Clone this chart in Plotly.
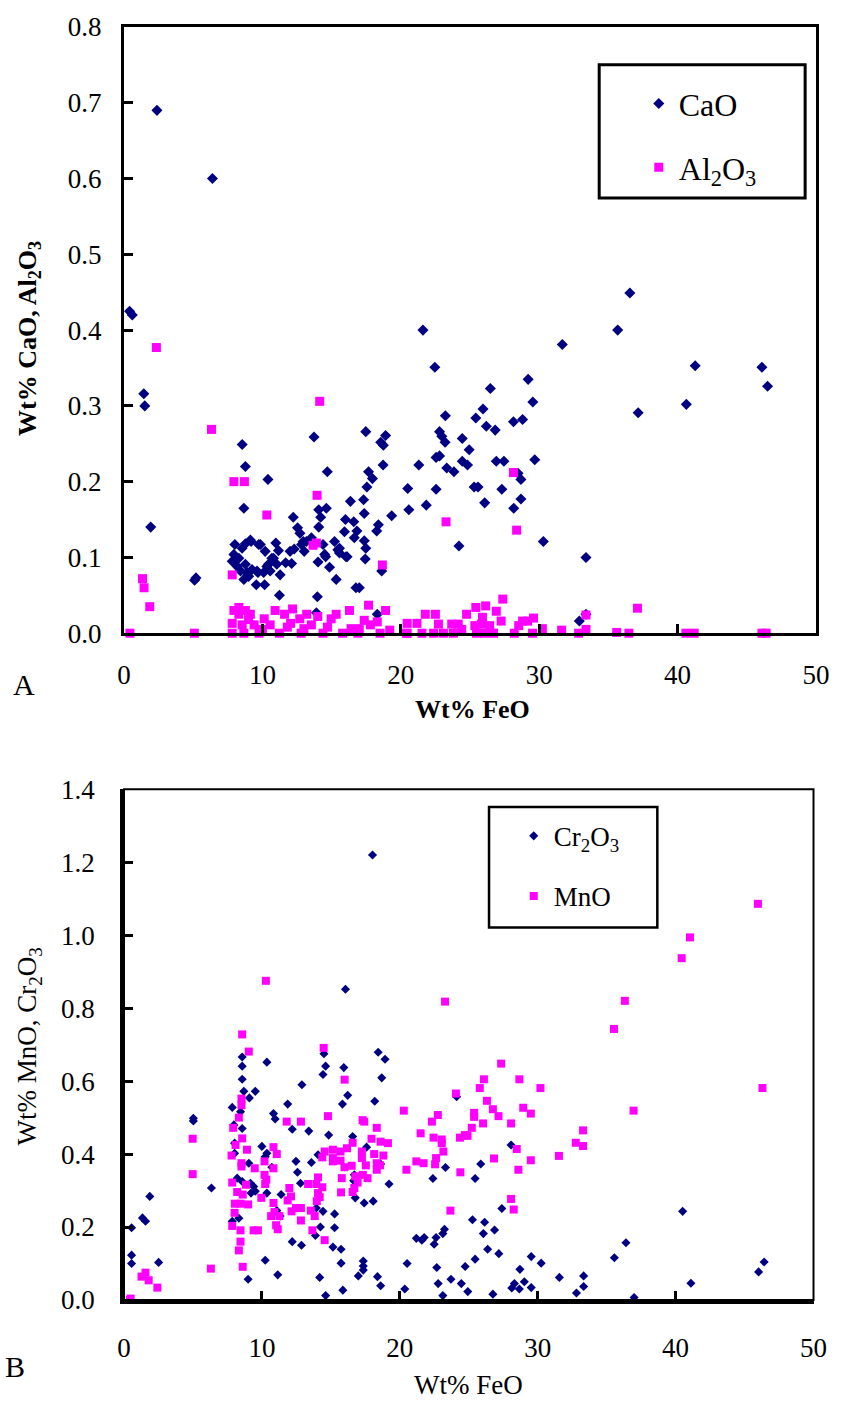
import plotly.graph_objects as go

# ---------------- Panel A: CaO and Al2O3 vs FeO ----------------
cao_feo = [0.4, 0.6, 2.38, 6.39, 36.55, 21.6, 35.67, 1.43, 1.50, 1.93, 5.1, 5.2,
           8.54, 8.77, 8.66, 10.4, 13.73, 13.97, 17.47, 18.55, 18.9, 18.74, 18.72, 14.69,
           17.67, 17.95, 17.55, 17.31, 17.36, 16.36, 14.62, 14.07, 14.21, 14.07, 12.23,
           12.54, 19.34, 18.38, 18.26, 20.5, 20.58, 21.3, 16.0, 16.6, 15.93, 16.83, 17.36,
           17.47, 17.43, 18.62, 15.21, 15.57, 16.12, 15.33, 14.85, 14.57, 14.02, 14.38,
           13.54, 12.95, 12.71, 13.02, 12.0, 12.11, 11.68, 11.28, 10.97, 11.16, 10.8,
           10.56, 10.32, 10.2, 9.85, 10.16, 9.56, 9.68, 9.18, 8.77, 8.01, 7.94, 7.82, 8.77,
           8.42, 8.89, 8.66, 8.3, 8.18, 11.23, 16.76, 17.0, 13.9, 18.3, 15.45, 16.04,
           16.64, 12.3, 12.83, 13.18, 14.5, 10.68, 11.04, 10.44, 9.73, 9.13, 8.53, 9.01,
           9.25, 9.61, 10.09, 15.57,
           31.67, 22.46, 41.27, 46.09, 46.5, 29.2, 26.47, 29.54, 40.63, 37.15, 25.94,
           23.22, 25.42, 28.14, 28.8, 26.18, 26.82, 22.8, 22.96, 23.2, 24.44, 24.94, 22.55,
           22.8, 23.32, 23.84, 24.44, 24.82, 26.9, 27.45, 29.68, 28.47, 28.68, 22.55, 25.3,
           25.58, 27.3, 21.84, 26.06, 28.68, 28.16, 24.2, 30.3, 33.38, 32.9, 33.38]
cao = [0.425, 0.420, 0.690, 0.600, 0.449, 0.400, 0.400, 0.316, 0.300, 0.140, 0.070, 0.073,
       0.249, 0.220, 0.165, 0.203, 0.259, 0.048, 0.266, 0.252, 0.261, 0.248, 0.222, 0.213,
       0.213, 0.204, 0.193, 0.176, 0.158, 0.174, 0.165, 0.163, 0.153, 0.140, 0.153,
       0.139, 0.155, 0.143, 0.135, 0.191, 0.163, 0.222, 0.150, 0.147, 0.134, 0.135, 0.122,
       0.112, 0.098, 0.082, 0.121, 0.106, 0.101, 0.071, 0.087, 0.101, 0.094, 0.117,
       0.126, 0.121, 0.132, 0.108, 0.108, 0.092, 0.093, 0.077, 0.119, 0.109, 0.099,
       0.082, 0.088, 0.108, 0.117, 0.064, 0.064, 0.080, 0.121, 0.118, 0.117, 0.104, 0.095, 0.091,
       0.082, 0.080, 0.071, 0.099, 0.088, 0.050, 0.060, 0.060, 0.027, 0.025, 0.110, 0.101,
       0.126, 0.111, 0.117, 0.121, 0.104, 0.099, 0.091, 0.091, 0.117, 0.123, 0.112, 0.075,
       0.084, 0.082, 0.080, 0.112,
       0.381, 0.351, 0.353, 0.351, 0.326, 0.335, 0.323, 0.305, 0.302, 0.291, 0.296,
       0.287, 0.284, 0.279, 0.282, 0.273, 0.268, 0.266, 0.260, 0.252, 0.257, 0.242, 0.232,
       0.234, 0.218, 0.213, 0.227, 0.222, 0.227, 0.227, 0.229, 0.211, 0.203, 0.190, 0.193,
       0.193, 0.190, 0.169, 0.172, 0.177, 0.165, 0.115, 0.121, 0.100, 0.016, 0.025]

al_feo = [2.34, 14.14, 6.32, 7.94, 8.7, 13.95, 10.32, 13.66, 13.9, 18.67, 1.34, 1.45, 1.86,
          7.82, 0.43, 5.08,
          28.14, 23.27, 28.37, 27.37, 37.1, 33.38, 26.13, 25.42, 26.9, 25.9, 24.75, 27.25,
          21.77, 22.5, 20.46, 21.17, 29.59, 28.8, 29.16, 28.52, 30.23, 31.62, 35.6, 36.48,
          40.6, 41.2, 46.09, 46.4, 32.85, 33.38, 29.52, 28.2, 26.7, 26.06, 25.47, 25.35,
          24.15, 24.4, 23.68, 23.8, 23.08, 22.72, 22.37, 21.53, 20.46, 26.42, 25.82,
          7.94, 8.77, 8.3, 9.13, 7.82, 8.54, 7.82, 8.66, 9.4, 9.76, 10.13, 10.92, 10.56,
          11.23, 11.6, 12.18, 12.04, 12.7, 12.8, 13.54, 14.0, 14.38, 14.97, 15.33, 15.8,
          16.29, 16.41, 17.0, 17.36, 17.67, 17.8, 18.3, 18.5, 18.9, 19.2, 20.4,
          10.0, 11.8, 13.0, 14.7, 16.9, 9.0, 13.2, 8.3]
al2o3 = [0.377, 0.306, 0.269, 0.200, 0.200, 0.182, 0.156, 0.116, 0.119, 0.090, 0.072, 0.060,
         0.035, 0.077, 0.0, 0.0,
         0.212, 0.147, 0.136, 0.045, 0.033, 0.024, 0.036, 0.034, 0.029, 0.021, 0.025, 0.016,
         0.025, 0.025, 0.013, 0.013, 0.020, 0.016, 0.016, 0.010, 0.006, 0.004, 0.001, 0.0,
         0.0, 0.0, 0.0, 0.0, 0.0, 0.005, 0.0, 0.0, 0.0, 0.0, 0.0, 0.010,
         0.012, 0.005, 0.012, 0.0, 0.0, 0.012, 0.0, 0.0, 0.0, 0.010, 0.012,
         0.030, 0.030, 0.025, 0.025, 0.013, 0.011, 0.0, 0.0, 0.011, 0.0, 0.019, 0.030, 0.011,
         0.0, 0.025, 0.032, 0.013, 0.019, 0.0, 0.011, 0.022, 0.0, 0.019, 0.025, 0.0,
         0.030, 0.006, 0.006, 0.017, 0.037, 0.011, 0.015, 0.0, 0.030, 0.004, 0.0,
         0.005, 0.008, 0.006, 0.008, 0.0, 0.018, 0.025, 0.034]

# ---------------- Panel B: Cr2O3 and MnO vs FeO ----------------
cr_feo = [18.02, 16.06,
          8.57, 8.57, 8.57, 10.36, 14.5, 14.62, 14.43, 15.94, 18.43, 18.93, 18.69, 12.9,
          8.69, 9.52, 9.09, 7.85, 8.45, 11.87, 16.22, 15.84, 18.18, 10.84, 10.96, 7.97, 8.57,
          12.2, 13.4, 14.84, 16.58, 17.59, 10.0, 10.36, 8.02, 8.02, 9.05, 10.72, 12.47, 13.59,
          14.07, 12.58, 12.8, 8.21, 8.57, 9.4, 9.52, 10.36, 9.21, 11.39, 19.22, 16.7, 16.66,
          18.61, 16.77, 17.42, 18.07, 13.95, 14.43, 15.27, 11.08, 11.32, 8.33, 7.85, 15.27,
          14.24, 13.88, 12.2, 12.87, 15.15, 15.74, 10.24, 17.35, 17.35, 17.35, 20.53, 15.74,
          16.99, 18.38, 11.15, 9.0, 14.19, 18.61, 15.87, 14.62, 20.36, 21.2, 10.24, 9.17,
          0.55, 0.55, 0.55, 1.34, 1.56, 1.87, 2.51, 5.03, 5.03, 6.34,
          24.12, 28.07, 23.31, 25.87, 22.4, 25.46, 27.4, 25.27, 26.15, 26.87, 26.06, 23.24,
          23.12, 21.6, 21.77, 22.63, 22.49, 26.37, 27.18, 25.46, 29.53, 30.25, 22.68, 24.74,
          28.71, 23.71, 24.46, 22.78, 24.93, 23.12, 26.75, 28.31, 28.12, 28.67, 29.03, 29.53,
          31.57, 33.33, 33.33, 32.81,
          40.51, 36.4, 35.56, 46.42, 46.02, 41.11, 36.99]
cr2o3 = [1.220, 0.852,
         0.666, 0.641, 0.605, 0.652, 0.675, 0.641, 0.618, 0.637, 0.679, 0.660, 0.609, 0.590,
         0.572, 0.572, 0.554, 0.528, 0.516, 0.537, 0.561, 0.537, 0.545, 0.511, 0.496, 0.480, 0.470,
         0.468, 0.463, 0.452, 0.448, 0.419, 0.421, 0.402, 0.430, 0.402, 0.375, 0.364, 0.380, 0.377,
         0.398, 0.350, 0.320, 0.334, 0.325, 0.311, 0.298, 0.293, 0.293, 0.289, 0.318, 0.343, 0.327,
         0.373, 0.280, 0.266, 0.271, 0.252, 0.243, 0.236, 0.245, 0.230, 0.224, 0.216, 0.198,
         0.200, 0.177, 0.160, 0.150, 0.145, 0.139, 0.109, 0.107, 0.093, 0.082, 0.100, 0.101,
         0.066, 0.064, 0.069, 0.057, 0.062, 0.039, 0.027, 0.012, 0.030, 0.169, 0.393, 0.320,
         0.198, 0.123, 0.100, 0.225, 0.216, 0.284, 0.103, 0.498, 0.491, 0.307,
         0.557, 0.425, 0.363, 0.373, 0.333, 0.333, 0.251, 0.220, 0.213, 0.192, 0.182, 0.194,
         0.182, 0.164, 0.171, 0.171, 0.153, 0.139, 0.127, 0.112, 0.119, 0.101, 0.089, 0.092,
         0.084, 0.057, 0.045, 0.045, 0.023, 0.012, 0.016, 0.045, 0.033, 0.030, 0.050, 0.034,
         0.062, 0.066, 0.037, 0.019,
         0.243, 0.157, 0.116, 0.104, 0.077, 0.046, 0.007]

mn_feo = [45.97, 41.04, 40.44, 23.28, 36.32, 35.53, 27.35, 26.1, 28.67, 25.8, 30.2, 46.3, 24.07,
          10.29, 8.57, 9.05, 14.48, 16.0,
          20.29, 26.32, 26.75, 28.95, 29.5, 27.16, 22.76, 22.33, 25.39, 25.39, 26.04, 28.07,
          25.22, 33.29, 21.51, 22.45, 23.04, 23.04, 24.36, 24.72, 24.91, 32.76, 33.29, 28.48,
          23.16, 21.2, 21.73, 22.63, 22.56, 26.83, 29.5, 31.54, 20.48, 24.39, 28.6, 28.07,
          28.26, 23.67, 36.95,
          0.48, 0.43, 1.27, 1.56, 1.79, 2.42, 4.98, 4.98, 6.3,
          8.52, 8.52, 8.33, 7.92, 8.57, 8.09, 8.92, 7.8, 8.52, 8.52, 9.48, 10.19, 10.84, 11.08,
          10.84, 11.8, 12.83, 14.79, 17.3, 17.42, 18.33, 17.95, 18.61, 19.14, 16.58, 14.55,
          15.15, 15.7, 16.17, 17.25, 18.14, 18.81, 18.33, 18.57, 17.54, 18.33, 17.25, 14.38,
          15.15, 15.15, 15.7, 15.99, 16.51, 16.77, 17.32, 17.66, 16.94, 16.7, 16.58, 15.79,
          15.74, 7.85, 8.85, 8.21, 8.61, 8.04, 8.45, 9.0, 8.02, 7.85, 8.45, 8.45, 8.33, 8.61,
          9.4, 9.71, 9.96, 10.19, 10.32, 10.24, 10.84, 10.91, 11.27, 10.67, 11.03, 11.15,
          11.87, 11.99, 12.11, 12.15, 12.47, 12.83, 12.83, 13.55, 13.83, 13.66, 14.55, 13.98,
          14.07, 13.95, 14.07, 13.35, 14.38, 14.19]
mno = [1.086, 0.994, 0.937, 0.818, 0.820, 0.743, 0.648, 0.605, 0.605, 0.581, 0.581, 0.581, 0.566,
       0.875, 0.728, 0.681, 0.691, 0.604,
       0.519, 0.546, 0.523, 0.527, 0.511, 0.504, 0.507, 0.489, 0.513, 0.502, 0.484, 0.484,
       0.472, 0.465, 0.457, 0.445, 0.440, 0.430, 0.445, 0.452, 0.450, 0.431, 0.422, 0.414,
       0.407, 0.380, 0.375, 0.389, 0.372, 0.388, 0.383, 0.395, 0.357, 0.350, 0.357, 0.277,
       0.248, 0.245, 0.519,
       0.004, 0.0, 0.064, 0.075, 0.054, 0.034, 0.442, 0.345, 0.086,
       0.552, 0.534, 0.500, 0.472, 0.443, 0.425, 0.412, 0.396, 0.375, 0.366, 0.361, 0.380, 0.419, 0.400,
       0.361, 0.489, 0.489, 0.504, 0.493, 0.489, 0.472, 0.442, 0.434, 0.430, 0.431, 0.407,
       0.412, 0.407, 0.416, 0.407, 0.400, 0.396, 0.375, 0.369, 0.369, 0.357, 0.389, 0.391,
       0.389, 0.380, 0.382, 0.364, 0.368, 0.339, 0.343, 0.334, 0.322, 0.307, 0.296, 0.334,
       0.295, 0.322, 0.316, 0.296, 0.289, 0.264, 0.264, 0.262, 0.239, 0.203, 0.191, 0.160, 0.136, 0.091,
       0.191, 0.191, 0.280, 0.343, 0.330, 0.318, 0.266, 0.241, 0.230, 0.230, 0.205, 0.194,
       0.273, 0.307, 0.284, 0.243, 0.252, 0.252, 0.218, 0.245, 0.230, 0.191, 0.164, 0.271,
       0.293, 0.318, 0.336, 0.318, 0.309, 0.282]

x_ticks = [0, 10, 20, 30, 40, 50]
NAVY = "#000080"
MAGENTA = "#FF00FF"
SERIF = "Liberation Serif, Times New Roman, serif"

fig = go.Figure()
fig.add_trace(go.Scatter(x=cao_feo, y=cao, mode="markers", name="CaO",
                         marker=dict(symbol="diamond", size=8.5, color=NAVY),
                         xaxis="x", yaxis="y", legend="legend", legendgroup="a1",
                         cliponaxis=False))
fig.add_trace(go.Scatter(x=al_feo, y=al2o3, mode="markers", name="Al<sub>2</sub>O<sub>3</sub>",
                         marker=dict(symbol="square", size=9, color=MAGENTA),
                         xaxis="x", yaxis="y", legend="legend", legendgroup="a2",
                         cliponaxis=False))
fig.add_trace(go.Scatter(x=cr_feo, y=cr2o3, mode="markers", name="Cr<sub>2</sub>O<sub>3</sub>",
                         marker=dict(symbol="diamond", size=7, color=NAVY),
                         xaxis="x2", yaxis="y2", legend="legend2", legendgroup="b1",
                         cliponaxis=False))
fig.add_trace(go.Scatter(x=mn_feo, y=mno, mode="markers", name="MnO",
                         marker=dict(symbol="square", size=8, color=MAGENTA),
                         xaxis="x2", yaxis="y2", legend="legend2", legendgroup="b2",
                         cliponaxis=False))

tick_font = dict(family=SERIF, size=27, color="black")
common = dict(showgrid=False, zeroline=False, showline=True, linecolor="black",
              ticks="inside", tickcolor="black", tickfont=tick_font)

fig.update_layout(
    width=842, height=1404,
    margin=dict(l=124, r=19, t=19, b=104),
    paper_bgcolor="white", plot_bgcolor="white",
    font=dict(family=SERIF, color="black"),
    xaxis=dict(domain=[0, 1], anchor="y", range=[0, 50], tickvals=x_ticks,
               linewidth=3, mirror=True, ticklen=9, tickwidth=3,
               ticklabelstandoff=15, **common),
    yaxis=dict(domain=[0.5238, 1], anchor="x", range=[0, 0.8], dtick=0.1, tickformat=".1f",
               linewidth=3, mirror=True, ticklen=9, tickwidth=3,
               ticklabelstandoff=14, **common),
    xaxis2=dict(domain=[0, 0.9964], anchor="y2", range=[0, 50], tickvals=x_ticks,
                linewidth=3.5, ticklen=9, tickwidth=3,
                ticklabelstandoff=21, **common),
    yaxis2=dict(domain=[0, 0.4012], anchor="x2", range=[0, 1.4], dtick=0.2, tickformat=".1f",
                linewidth=3.5, ticklen=9, tickwidth=3,
                ticklabelstandoff=20, **common),
    legend=dict(x=0.7439, y=0.9613, xanchor="left", yanchor="top",
                bgcolor="rgba(0,0,0,0)", borderwidth=0, tracegroupgap=19,
                font=dict(family=SERIF, size=32, color="black")),
    legend2=dict(x=0.5632, y=0.3835, xanchor="left", yanchor="top",
                 bgcolor="rgba(0,0,0,0)", borderwidth=0, tracegroupgap=22,
                 font=dict(family=SERIF, size=27, color="black")),
    showlegend=True,
)

# Frames: legend boxes and the thin top/right border of panel B
fig.add_shape(type="rect", xref="paper", yref="paper", x0=0.6867, x1=0.9843,
              y0=0.8657, y1=0.9703, line=dict(color="black", width=3))
fig.add_shape(type="rect", xref="paper", yref="paper", x0=0.5275, x1=0.7707,
              y0=0.2927, y1=0.3872, line=dict(color="black", width=2.5))
fig.add_shape(type="rect", xref="x2 domain", yref="y2 domain", x0=0, x1=1, y0=0, y1=1,
              line=dict(color="black", width=2))


def label(text, x, y, size, angle=0, xanchor="center"):
    fig.add_annotation(text=text, xref="paper", yref="paper", x=x, y=y,
                       xanchor=xanchor, yanchor="middle", textangle=angle,
                       showarrow=False, font=dict(family=SERIF, size=size, color="black"))


label("<b>Wt% FeO</b>", 0.5036, 0.4637, 26)
label("<b>Wt% CaO, Al<sub>2</sub>O<sub>3</sub></b>", -0.1373, 0.7557, 26, angle=-90)
label("Wt% FeO", 0.4979, -0.0664, 27)
label("Wt% MnO, Cr<sub>2</sub>O<sub>3</sub>", -0.1373, 0.1991, 27, angle=-90)
label("A", -0.1438, 0.4832, 30)
label("B", -0.1745, -0.0523, 30, xanchor="left")

fig.write_html("out.html")
